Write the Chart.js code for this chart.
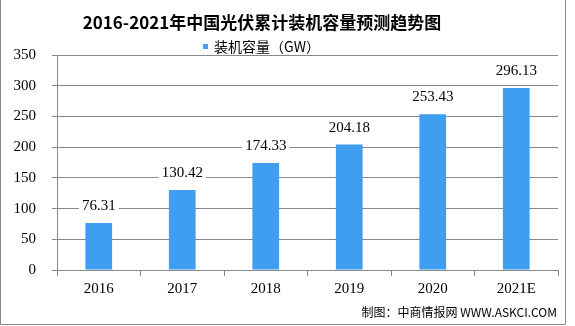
<!DOCTYPE html>
<html>
<head>
<meta charset="utf-8">
<script src="https://cdn.jsdelivr.net/npm/chart.js@4"></script>
<style>
  html, body { margin: 0; padding: 0; background: #fff; }
  #wrap { width: 575px; height: 326px; position: relative; }
</style>
</head>
<body>
<div id="wrap"><canvas id="pv"></canvas></div>
<script>
// data
const years    = ['2016', '2017', '2018', '2019', '2020', '2021E'];
const capacity = [76.31, 130.42, 174.33, 204.18, 253.43, 296.13];
const yTicks   = [0, 50, 100, 150, 200, 250, 300, 350];

const titleText  = '2016-2021年中国光伏累计装机容量预测趋势图';
const seriesName = '装机容量（GW）';
const sourceText = '制图：中商情报网 WWW.ASKCI.COM';

const barColor = 'rgb(64, 158, 240)';
const numFont  = '"Liberation Serif", "Noto Sans CJK SC", serif';
const cjkFont  = '"Noto Sans CJK SC", "Liberation Serif", sans-serif';

// title, legend, value labels, source, frame
const decorations = {
    id: 'decorations',
    afterDatasetsDraw(chart) {
        const ctx = chart.ctx;
        ctx.save();

        // value labels with white box (breaks the grid lines)
        const meta = chart.getDatasetMeta(0);
        ctx.font = '15px ' + numFont;
        ctx.textAlign = 'center';
        ctx.textBaseline = 'middle';
        meta.data.forEach((bar, i) => {
            const txt = capacity[i].toFixed(2);
            const w = ctx.measureText(txt).width;
            const y = bar.y - 17;
            ctx.fillStyle = '#fff';
            ctx.fillRect(bar.x - w / 2 - 3, y - 8, w + 6, 16);
            ctx.fillStyle = '#000';
            ctx.fillText(txt, bar.x, y);
        });

        // title
        ctx.font = 'bold 17px ' + cjkFont;
        ctx.fillStyle = '#000';
        ctx.fillText(titleText, 262, 23);

        // legend
        ctx.font = '14px ' + cjkFont;
        const lw = ctx.measureText(seriesName).width;
        const lx = 262 - lw / 2 + 5;
        ctx.fillStyle = barColor;
        ctx.fillRect(lx - 11, 44, 5, 5);
        ctx.fillStyle = '#000';
        ctx.textAlign = 'left';
        ctx.fillText(seriesName, lx, 47);

        // source
        ctx.font = '12px ' + cjkFont;
        ctx.textAlign = 'right';
        ctx.fillText(sourceText, 557, 312);

        // frame
        ctx.strokeStyle = '#888';
        ctx.lineWidth = 1;
        ctx.beginPath();
        ctx.moveTo(0.5, 0);
        ctx.lineTo(0.5, 324.5);
        ctx.lineTo(565.5, 324.5);
        ctx.lineTo(565.5, 0);
        ctx.stroke();

        ctx.restore();
    }
};

const data = {
    labels: years,
    datasets: [{
        label: seriesName,
        data: capacity,
        backgroundColor: barColor,
        borderWidth: 0,
        barPercentage: 0.64,
        categoryPercentage: 0.5
    }]
};

const config = {
    type: 'bar',
    data: data,
    options: {
        responsive: false,
        animation: false,
        layout: { padding: { left: 1, top: 55, right: 17, bottom: 0 } },
        plugins: {
            legend: { display: false },
            title: { display: false },
            tooltip: { enabled: false }
        },
        scales: {
            x: {
                afterFit: (s) => { s.height = 56; },
                grid: {
                    display: true,
                    drawOnChartArea: false,
                    drawTicks: true,
                    tickLength: 6,
                    color: '#888',
                    offset: true
                },
                border: { color: '#888' },
                ticks: {
                    color: '#000',
                    padding: 4,
                    font: { family: numFont, size: 15 }
                }
            },
            y: {
                min: 0,
                max: 350,
                afterFit: (s) => { s.width = 56; },
                afterBuildTicks: (s) => { s.ticks = yTicks.map(v => ({ value: v })); },
                grid: {
                    color: '#888',
                    drawTicks: true,
                    tickLength: 5
                },
                border: { color: '#888' },
                ticks: {
                    color: '#000',
                    padding: 16,
                    font: { family: numFont, size: 15 }
                }
            }
        }
    },
    plugins: [decorations]
};

const canvas = document.getElementById('pv');
canvas.width = 575;
canvas.height = 326;
let pvChart = new Chart(canvas, config);
</script>
</body>
</html>
